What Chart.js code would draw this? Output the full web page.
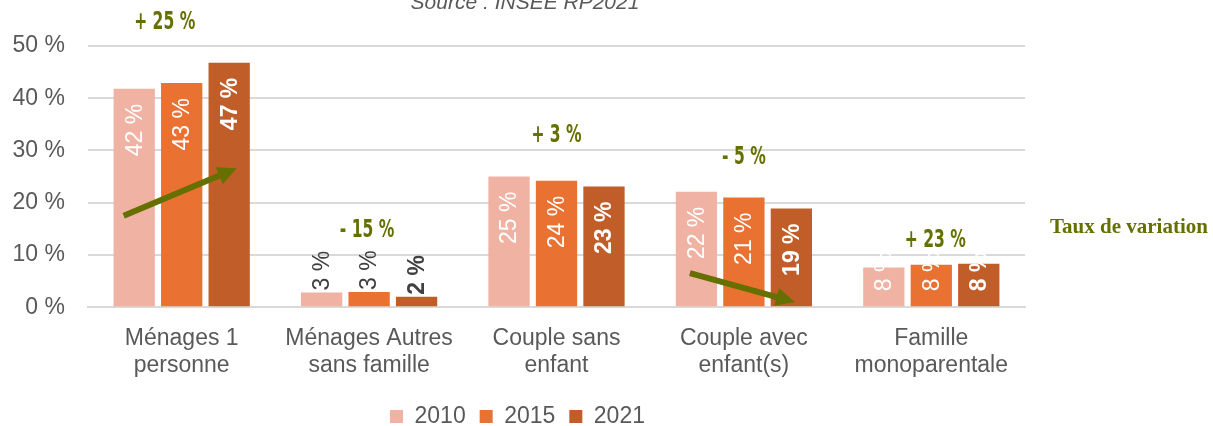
<!DOCTYPE html>
<html>
<head>
<meta charset="utf-8">
<script src="https://cdn.jsdelivr.net/npm/chart.js@4"></script>
<style>
  html, body { margin: 0; padding: 0; background: #fff; }
  #wrap { width: 1213px; height: 426px; }
</style>
</head>
<body>
<div id="wrap"><canvas id="chart"></canvas></div>
<script>
const categories = [
  ['Ménages 1', 'personne'],
  ['Ménages Autres', 'sans famille'],
  ['Couple sans', 'enfant'],
  ['Couple avec', 'enfant(s)'],
  ['Famille', 'monoparentale']
];
const years = ['2010', '2015', '2021'];
const values2010 = [41.8, 2.8, 25.0, 22.1, 7.6];
const values2015 = [42.9, 2.9, 24.2, 21.0, 8.1];
const values2021 = [46.8, 2.0, 23.1, 18.9, 8.3];
const labels2010 = ['42 %', '3 %', '25 %', '22 %', '8 %'];
const labels2015 = ['43 %', '3 %', '24 %', '21 %', '8 %'];
const labels2021 = ['47 %', '2 %', '23 %', '19 %', '8 %'];
const variations = ['+ 25 %', '- 15 %', '+ 3 %', '- 5 %', '+ 23 %'];
const yTicks = [0, 10, 20, 30, 40, 50];

const colors = ['#F0B3A3', '#E97233', '#C05D29'];
const olive = '#657000';
const grey = '#595959';
const FONT = '"Liberation Sans", Arial, sans-serif';

// where the variation texts sit (y value, x shift) and the two arrows
const variationAt = [54.4, 14.7, 32.8, 28.6, 12.8];
const variationDx = [-17, -2, 0, 0, 4];
const arrows = [
  { cat: 0, from: [-58, 17.5], to: [55, 26.6] },
  { cat: 3, from: [-54, 6.5], to: [51, 1.0] }
];

const valueLabels = {
  id: 'valueLabels',
  afterDatasetsDraw(chart) {
    const ctx = chart.ctx;
    const all = [labels2010, labels2015, labels2021];
    ctx.save();
    chart.data.datasets.forEach((ds, di) => {
      const meta = chart.getDatasetMeta(di);
      meta.data.forEach((bar, i) => {
        const txt = all[di][i];
        const v = ds.data[i];
        ctx.font = (di === 2 ? 'bold ' : '') + '23px ' + FONT;
        const w = ctx.measureText(txt).width;
        ctx.save();
        ctx.translate(bar.x, 0);
        ctx.rotate(-Math.PI / 2);
        ctx.textBaseline = 'middle';
        if (v < 5) {
          ctx.fillStyle = '#404040';
          ctx.textAlign = 'left';
          ctx.fillText(txt, -(bar.y - 2), 1);
        } else if (bar.base - bar.y < w + 24) {
          ctx.fillStyle = '#fff';
          ctx.textAlign = 'left';
          ctx.fillText(txt, -(bar.base - 15), 1);
        } else {
          ctx.fillStyle = '#fff';
          ctx.textAlign = 'right';
          ctx.fillText(txt, -(bar.y + 15), 1);
        }
        ctx.restore();
      });
    });
    ctx.restore();
  },
  afterDraw(chart) {
    const ctx = chart.ctx;
    const x = chart.scales.x, y = chart.scales.y;
    ctx.save();
    // variation texts, squeezed to look like a condensed face
    ctx.fillStyle = olive;
    ctx.textAlign = 'center';
    ctx.textBaseline = 'middle';
    ctx.font = 'bold 24px "DejaVu Sans Condensed", "Liberation Sans Narrow", sans-serif';
    variations.forEach((t, i) => {
      ctx.save();
      ctx.translate(x.getPixelForValue(i) + variationDx[i], y.getPixelForValue(variationAt[i]));
      ctx.scale(0.72, 1);
      ctx.fillText(t, 0, 0);
      ctx.restore();
    });
    // arrows
    ctx.strokeStyle = olive;
    ctx.lineWidth = 6;
    arrows.forEach(a => {
      const cx = x.getPixelForValue(a.cat);
      const x0 = cx + a.from[0], y0 = y.getPixelForValue(a.from[1]);
      const x1 = cx + a.to[0], y1 = y.getPixelForValue(a.to[1]);
      const ang = Math.atan2(y1 - y0, x1 - x0);
      const head = 21;
      ctx.beginPath();
      ctx.moveTo(x0, y0);
      ctx.lineTo(x1 - Math.cos(ang) * head * 0.8, y1 - Math.sin(ang) * head * 0.8);
      ctx.stroke();
      ctx.beginPath();
      ctx.moveTo(x1, y1);
      ctx.lineTo(x1 - Math.cos(ang - 0.45) * head, y1 - Math.sin(ang - 0.45) * head);
      ctx.lineTo(x1 - Math.cos(ang + 0.45) * head, y1 - Math.sin(ang + 0.45) * head);
      ctx.closePath();
      ctx.fillStyle = olive;
      ctx.fill();
    });
    // side label
    ctx.textAlign = 'left';
    ctx.font = 'bold 21px "Liberation Serif", "Times New Roman", serif';
    ctx.fillText('Taux de variation', 1050, 228);
    // source, cut at the top edge
    ctx.fillStyle = grey;
    ctx.textAlign = 'center';
    ctx.textBaseline = 'alphabetic';
    ctx.font = 'italic 21px ' + FONT;
    ctx.fillText('Source : INSEE RP2021', 525, 9);
    ctx.restore();
  }
};

new Chart(document.getElementById('chart'), {
  type: 'bar',
  data: {
    labels: categories,
    datasets: [
      { label: years[0], data: values2010, backgroundColor: colors[0] },
      { label: years[1], data: values2015, backgroundColor: colors[1] },
      { label: years[2], data: values2021, backgroundColor: colors[2] }
    ]
  },
  options: {
    responsive: true,
    maintainAspectRatio: false,
    animation: false,
    categoryPercentage: 0.76,
    barPercentage: 0.87,
    layout: { padding: { left: 10, right: 188, top: 46, bottom: -12 } },
    plugins: {
      tooltip: { enabled: false },
      legend: {
        position: 'bottom',
        labels: {
          boxWidth: 13,
          boxHeight: 13,
          padding: 14,
          color: grey,
          font: { size: 23, family: FONT }
        }
      }
    },
    scales: {
      x: {
        grid: { display: false, drawTicks: false },
        border: { display: true, color: '#d9d9d9', width: 2 },
        afterFit(scale) { scale.height -= 6; },
        ticks: {
          color: grey,
          padding: 18,
          maxRotation: 0,
          font: { size: 23, family: FONT, lineHeight: 1.17 }
        }
      },
      y: {
        min: 0,
        max: 50,
        afterBuildTicks(scale) { scale.ticks = yTicks.map(v => ({ value: v })); },
        afterFit(scale) { scale.width = 78; },
        grid: { color: '#d9d9d9', lineWidth: 2, drawTicks: false },
        border: { display: false },
        ticks: {
          color: grey,
          padding: 23,
          font: { size: 23, family: FONT },
          callback: v => v + ' %'
        }
      }
    }
  },
  plugins: [valueLabels]
});
</script>
</body>
</html>
